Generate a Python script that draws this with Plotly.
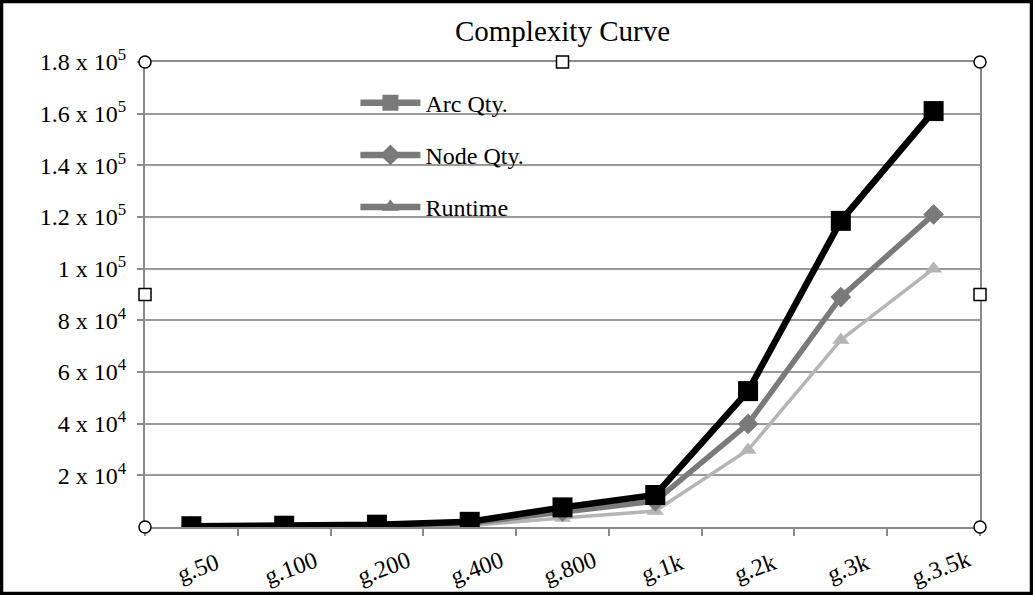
import plotly.graph_objects as go

categories = ["g.50", "g.100", "g.200", "g.400", "g.800", "g.1k", "g.2k", "g.3k", "g.3.5k"]
arc_qty = [300, 500, 900, 2000, 7600, 12400, 52600, 118500, 161000]
node_qty = [200, 300, 700, 1500, 6000, 10000, 39900, 89000, 121000]
runtime = [100, 200, 300, 500, 3500, 6200, 29800, 72400, 100000]
y_ticks = [20000, 40000, 60000, 80000, 100000, 120000, 140000, 160000, 180000]
y_tick_text = ["2 x 10<sup>4</sup>", "4 x 10<sup>4</sup>", "6 x 10<sup>4</sup>", "8 x 10<sup>4</sup>",
               "1 x 10<sup>5</sup>", "1.2 x 10<sup>5</sup>", "1.4 x 10<sup>5</sup>",
               "1.6 x 10<sup>5</sup>", "1.8 x 10<sup>5</sup>"]

FONT = "Liberation Serif"
W, H = 1033, 595
ML, MR, MT, MB = 145, 53, 62, 68
PW, PH = W - ML - MR, H - MT - MB

fig = go.Figure()

# real series (drawn light -> dark so black sits on top)
fig.add_trace(go.Scatter(x=categories, y=runtime, mode="lines+markers", showlegend=False,
                         line=dict(color="#b5b5b5", width=3.5),
                         marker=dict(symbol="triangle-up", size=15, color="#b5b5b5")))
fig.add_trace(go.Scatter(x=categories, y=node_qty, mode="lines+markers", showlegend=False,
                         line=dict(color="#7a7a7a", width=5.5),
                         marker=dict(symbol="diamond", size=16, color="#7a7a7a")))
fig.add_trace(go.Scatter(x=categories, y=arc_qty, mode="lines+markers", showlegend=False,
                         line=dict(color="black", width=6.5),
                         marker=dict(symbol="square", size=20, color="black")))

# legend entries (all shown in grey like the original)
legend_items = [("Arc Qty.", "square", 18), ("Node Qty.", "diamond", 16), ("Runtime", "triangle-up", 15)]
for i, (name, sym, sz) in enumerate(legend_items):
    fig.add_trace(go.Scatter(x=[None], y=[None], mode="lines+markers", name=name, legendgroup=str(i),
                             line=dict(color="#7a7a7a", width=6.5),
                             marker=dict(symbol=sym, size=sz, color="#7a7a7a")))

# category labels, rotated
for c in categories:
    fig.add_annotation(x=c, xref="x", y=0, yref="paper", xshift=7, yshift=-41, text=c, textangle=-20,
                       showarrow=False, xanchor="center", yanchor="middle",
                       font=dict(family=FONT, size=24, color="black"))

# selection handles around the plot area
shapes = []
for px, py, kind in [(0, 0, "circle"), (1, 0, "circle"), (0, 1, "circle"), (1, 1, "circle"),
                     (0.5, 1, "rect"), (0, 0.5, "rect"), (1, 0.5, "rect")]:
    shapes.append(dict(type=kind, xref="paper", yref="paper", xsizemode="pixel", ysizemode="pixel",
                       xanchor=px, yanchor=py, x0=-6, x1=6, y0=-6, y1=6,
                       line=dict(color="black", width=1.5), fillcolor="white", layer="above"))
# outer black frame
shapes.append(dict(type="rect", xref="paper", yref="paper",
                   x0=-(ML - 1.5) / PW, x1=1 + (MR - 1.5) / PW,
                   y0=-(MB - 1.5) / PH, y1=1 + (MT - 1.5) / PH,
                   line=dict(color="black", width=3.5)))

fig.update_layout(
    width=W, height=H,
    margin=dict(l=ML, r=MR, t=MT, b=MB),
    paper_bgcolor="white", plot_bgcolor="white",
    title=dict(text="Complexity Curve", x=0.5, xref="paper", y=0.948, yanchor="middle",
               font=dict(family=FONT, size=29, color="black")),
    font=dict(family=FONT, color="black"),
    shapes=shapes,
    showlegend=True,
    legend=dict(x=0.252, y=0.96, xanchor="left", yanchor="top", bgcolor="rgba(0,0,0,0)",
                font=dict(family=FONT, size=24, color="black"), tracegroupgap=18,
                itemwidth=60, traceorder="grouped"),
    xaxis=dict(type="category", range=[-0.5, len(categories) - 0.5], showgrid=False, showline=True,
               linecolor="#8a8a8a", linewidth=2, mirror=True, ticks="outside", tickson="boundaries",
               ticklen=7, tickwidth=2, tickcolor="#8a8a8a", showticklabels=False, fixedrange=True),
    yaxis=dict(range=[0, 180000], tickvals=y_ticks, ticktext=y_tick_text, showgrid=True,
               gridcolor="#9a9a9a", gridwidth=1.5, showline=True, linecolor="#8a8a8a", linewidth=2,
               mirror=True, ticks="outside", ticklen=6, tickwidth=1.5, tickcolor="#8a8a8a",
               ticklabelstandoff=6,
               zeroline=False, tickfont=dict(family=FONT, size=24, color="black"), fixedrange=True),
)

# the page's default body margin would push the chart off the window
fig.write_html("out.html", config={"displayModeBar": False},
               post_script="document.body.style.margin = '0';")
